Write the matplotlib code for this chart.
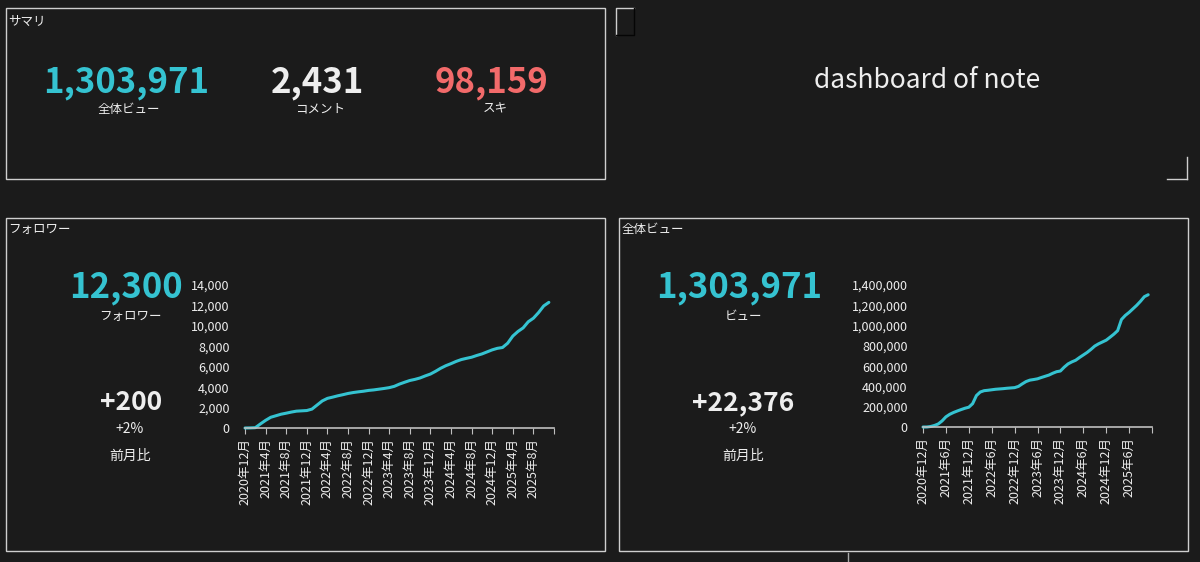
import matplotlib
matplotlib.use('Agg')
import matplotlib.pyplot as plt
from matplotlib.patches import Rectangle
from matplotlib.lines import Line2D
from matplotlib.ticker import FuncFormatter

plt.rcParams['font.family'] = ['Noto Sans CJK JP', 'DejaVu Sans']

# --- data -------------------------------------------------------------
summary_values = ['1,303,971', '2,431', '98,159']
summary_labels = ['全体ビュー', 'コメント', 'スキ']

followers = [0, 10, 30, 400, 750, 1050, 1200, 1350, 1450, 1560,
             1650, 1680, 1710, 1850, 2250, 2650, 2900, 3020, 3150, 3260,
             3380, 3470, 3540, 3600, 3680, 3730, 3800, 3870, 3950, 4080,
             4300, 4480, 4650, 4760, 4900, 5100, 5280, 5550, 5850, 6100,
             6300, 6520, 6700, 6820, 6930, 7100, 7250, 7450, 7650, 7800,
             7880, 8300, 9000, 9450, 9800, 10400, 10750, 11300, 11950, 12300]

views = [0, 0, 5000, 15000, 30000, 60000, 100000, 125000, 143000, 158000,
         172000, 185000, 195000, 230000, 310000, 345000, 358000, 362000, 367000, 372000,
         375000, 378000, 382000, 385000, 388000, 400000, 425000, 448000, 462000, 468000,
         475000, 488000, 500000, 512000, 530000, 545000, 552000, 590000, 622000, 642000,
         658000, 685000, 710000, 735000, 765000, 798000, 820000, 838000, 856000, 885000,
         915000, 950000, 1060000, 1100000, 1130000, 1165000, 1200000, 1240000, 1285000, 1303971]

follower_diff = '+200'
view_diff = '+22,376'
diff_pct = '+2%'

# month index 0 = 2020-12
start_year, start_month = 2020, 12

def month_label(i):
    m = start_month - 1 + i
    return f'{start_year + m // 12}年{m % 12 + 1}月'

W, H = 1200, 562
BG = '#1b1b1b'
CYAN = '#35c3d1'
RED = '#f26a6a'
WHITE = '#eeeeee'
EDGE = '#cfcfcf'

fig = plt.figure(figsize=(W / 100, H / 100), dpi=100, facecolor=BG)


def fx(x):
    return x / W


def fy(y):
    return 1 - y / H


def box(x0, y0, x1, y1):
    fig.patches.append(Rectangle((fx(x0), fy(y1)), fx(x1 - x0), (y1 - y0) / H,
                                 transform=fig.transFigure, fill=False,
                                 edgecolor=EDGE, linewidth=1.0))


def line(xs, ys, color=EDGE):
    fig.lines.append(Line2D([fx(v) for v in xs], [fy(v) for v in ys],
                            transform=fig.transFigure, color=color, linewidth=1.0))


def txt(x, y, s, size, color=WHITE, weight='normal', ha='center', va='center'):
    fig.text(fx(x), fy(y), s, fontsize=size, color=color, weight=weight, ha=ha, va=va)


# panels
box(6, 8, 605, 179)
box(6, 218, 605, 551)
box(619, 218, 1188, 551)

# decorative marks top right
line([616, 616, 634], [35, 8, 8])
line([634, 634, 616], [8, 35, 35], color='#050505')
line([1187, 1187], [157, 179])
line([1167, 1187], [179, 179])
line([848, 848], [553, 562], color='#aaaaaa')

txt(8, 21, 'サマリ', 9, ha='left')
txt(8, 229, 'フォロワー', 9, ha='left')
txt(622, 229, '全体ビュー', 9, ha='left')

txt(927, 80, 'dashboard of note', 19, color=WHITE)

# summary KPIs
summary_colors = [CYAN, WHITE, RED]
for cx, val, lab, col in zip([126, 317, 492], summary_values, summary_labels, summary_colors):
    txt(cx, 92, val, 25, color=col, weight='bold', va='baseline')
    txt(cx + 3, 109, lab, 9)

# follower KPIs
txt(126, 297, f'{followers[-1]:,}', 25, color=CYAN, weight='bold', va='baseline')
txt(130, 316, 'フォロワー', 9)
txt(131, 410, follower_diff, 19, weight='bold', va='baseline')
txt(130, 429, diff_pct, 10)
txt(130, 456, '前月比', 10)

# view KPIs
txt(739, 297, f'{views[-1]:,}', 25, color=CYAN, weight='bold', va='baseline')
txt(743, 316, 'ビュー', 9)
txt(743, 410, view_diff, 19, weight='bold', va='baseline')
txt(743, 429, diff_pct, 10)
txt(743, 456, '前月比', 10)


def chart(x0, x1, y_zero, y_top, data, ymax, ystep, xstep):
    ax = fig.add_axes([fx(x0), fy(y_zero), (x1 - x0) / W, (y_zero - y_top) / H])
    ax.set_facecolor('none')
    ax.plot(range(len(data)), data, color=CYAN, linewidth=2.2,
            solid_capstyle='round', clip_on=False)
    ax.set_xlim(0, 60)
    ax.set_ylim(0, ymax)
    ax.set_yticks(range(0, ymax + 1, ystep))
    ax.yaxis.set_major_formatter(FuncFormatter(lambda v, p: f'{int(v):,}'))
    ticks = list(range(0, 61, xstep))
    ax.set_xticks(ticks)
    ax.set_xticklabels([month_label(t) if t < 60 else '' for t in ticks], rotation=90)
    for s in ['top', 'right', 'left']:
        ax.spines[s].set_visible(False)
    ax.spines['bottom'].set_color('#bfbfbf')
    ax.spines['bottom'].set_linewidth(1.2)
    ax.tick_params(axis='y', length=0, pad=11, labelsize=9, labelcolor=WHITE)
    ax.tick_params(axis='x', length=4, color='#bfbfbf', pad=3, labelsize=9, labelcolor=WHITE)
    return ax


chart(245, 554, 428, 285, followers, 14000, 2000, 4)
chart(923, 1152, 427, 285, views, 1400000, 200000, 6)

fig.savefig('out.png', dpi=100, facecolor=BG)
